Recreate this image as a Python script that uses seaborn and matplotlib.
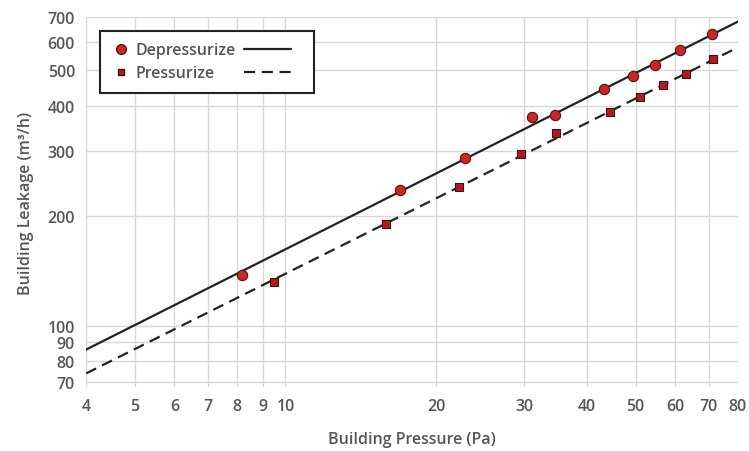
import numpy as np
import matplotlib
matplotlib.use("Agg")
import matplotlib.pyplot as plt
import seaborn as sns
from matplotlib.lines import Line2D
from matplotlib.legend_handler import HandlerLine2D

# measured points (Pa, m3/h)
depress_p = [8.2, 16.9, 22.8, 31.1, 34.6, 43.2, 49.4, 54.8, 61.3, 71.2]
depress_q = [138, 235, 288, 372, 378, 444, 484, 519, 568, 631]
press_p = [9.5, 15.9, 22.2, 29.5, 34.7, 44.5, 51.0, 56.8, 63.2, 71.5]
press_q = [132, 190, 240, 296, 336, 384, 424, 456, 488, 537]

# fitted power-law lines, end values
fit_p = [4, 80]
depress_fit = [86, 680]
press_fit = [74, 578]

x_ticks = [4, 5, 6, 7, 8, 9, 10, 20, 30, 40, 50, 60, 70, 80]
y_ticks = [70, 80, 90, 100, 200, 300, 400, 500, 600, 700]

sns.set_style("white")
plt.rcParams["font.family"] = ["Open Sans", "DejaVu Sans"]
plt.rcParams["font.weight"] = 600
plt.rcParams["axes.labelweight"] = 600
txt = "#555555"
fs = 11.5

fig = plt.figure(figsize=(7.49, 4.52), dpi=100)
ax = fig.add_axes([0.115, 0.142, 0.87, 0.818])

sns.lineplot(x=fit_p, y=depress_fit, ax=ax, color="#222222", lw=1.6, zorder=2)
sns.lineplot(x=fit_p, y=press_fit, ax=ax, color="#222222", lw=1.6,
             linestyle=(0, (5, 3)), zorder=2)
sns.scatterplot(x=depress_p, y=depress_q, ax=ax, marker="o", s=55,
                color="#c62828", edgecolor="#5a1010", linewidth=0.8, zorder=3)
sns.scatterplot(x=press_p, y=press_q, ax=ax, marker="s", s=30,
                color="#a52026", edgecolor="#4a0c0c", linewidth=0.8, zorder=3)

ax.set_xscale("log")
ax.set_yscale("log")
ax.set_xlim(4, 80)
ax.set_ylim(68, 700)
ax.set_xticks(x_ticks)
ax.set_xticklabels([str(v) for v in x_ticks])
ax.set_yticks(y_ticks)
ax.set_yticklabels([str(v) for v in y_ticks])
ax.minorticks_off()
ax.grid(True, which="major", color="#d8d8d8", lw=1.0)
ax.set_axisbelow(True)
for s in ax.spines.values():
    s.set_visible(False)
ax.tick_params(length=0, labelsize=fs, colors=txt, pad=8)

ax.set_xlabel("Building Pressure (Pa)", fontsize=fs, color=txt, labelpad=12)
ax.set_ylabel("Building Leakage (m³/h)", fontsize=fs, color=txt, labelpad=10)


class LeftMarker(HandlerLine2D):
    # marker drawn near the left edge of the handle box
    def create_artists(self, legend, orig_handle, xdescent, ydescent,
                       width, height, fontsize, trans):
        return super().create_artists(legend, orig_handle, xdescent, ydescent,
                                      width * 0.4, height, fontsize, trans)


m1 = Line2D([], [], marker="o", ls="", color="#c62828",
            markeredgecolor="#5a1010", markersize=7)
m2 = Line2D([], [], marker="s", ls="", color="#a52026",
            markeredgecolor="#4a0c0c", markersize=5)
l1 = Line2D([], [], color="#222222", lw=1.6)
l2 = Line2D([], [], color="#222222", lw=1.6, linestyle=(0, (5, 3)))
# column 2 labels are invisible spacers so the frame encloses the line samples
leg = ax.legend([m1, m2, l1, l2], ["Depressurize", "Pressurize", "xxxx", "xxxx"],
                ncol=2, loc="upper left", bbox_to_anchor=(0.0215, 0.962),
                borderaxespad=0, fancybox=False, framealpha=1,
                edgecolor="#222222", fontsize=fs, handlelength=3.0,
                handletextpad=-1.5, columnspacing=0.5, borderpad=0.7,
                labelspacing=0.45,
                handler_map={m1: LeftMarker(), m2: LeftMarker()})
leg.get_frame().set_linewidth(1.5)
for i, t in enumerate(leg.get_texts()):
    t.set_color(txt if i < 2 else "none")

fig.savefig("out.png", dpi=100)
